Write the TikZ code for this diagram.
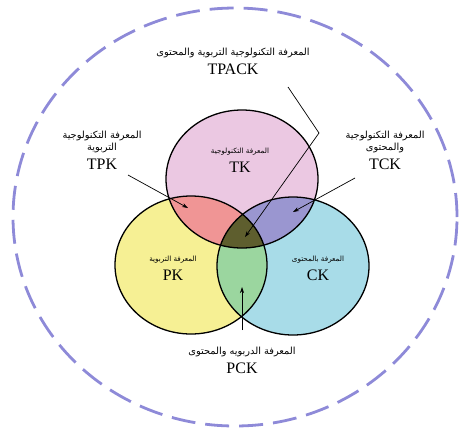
\documentclass[tikz,border=0pt]{standalone}
\usepackage{fontspec}
\setmainfont{Liberation Serif}
\newfontfamily\arabicfont[Script=Arabic]{DejaVu Sans}
\TeXXeTstate=1
\usepackage{xcolor}
\usepackage{tikz}
\usetikzlibrary{shapes.geometric, arrows.meta, positioning, backgrounds}
\definecolor{tkcolor}{RGB}{235, 200, 226}
\definecolor{pkcolor}{RGB}{246, 240, 148}
\definecolor{ckcolor}{RGB}{168, 220, 232}
\definecolor{tpkcolor}{RGB}{240, 149, 149}
\definecolor{tckcolor}{RGB}{154, 150, 208}
\definecolor{pckcolor}{RGB}{155, 214, 159}
\definecolor{tpackcolor}{RGB}{94, 94, 46}
\definecolor{outercolor}{RGB}{142, 138, 216}

\begin{document}
\begin{tikzpicture}[
    x=1pt, y=-1pt,
    venn/.style={ellipse, draw=black, line width=1.3pt, inner sep=0pt, minimum width=152pt, minimum height=138pt},
    arlabel/.style={font=\arabicfont\fontsize{9.8}{11.5}\selectfont, inner sep=0.5pt, align=center},
    arsmall/.style={font=\arabicfont\fontsize{7.2}{8.5}\selectfont, inner sep=0.5pt},
    abbr/.style={font=\fontsize{16}{18}\selectfont, inner sep=0.5pt},
    pointer/.style={-{Stealth[length=6pt, width=4pt]}, line width=0.7pt},
]
\useasboundingbox (0,0) rectangle (462,429);

% ============ OUTER CONTEXT ============
\draw[outercolor, line width=2.8pt, dash pattern=on 24pt off 10pt] (235,217) ellipse (222pt and 209pt);

% ============ CIRCLES ============
\node[venn] (tk) at (242,179) {};
\node[venn] (pk) at (191,265) {};
\node[venn] (ck) at (293,266) {};

% ============ FILLS (behind outlines) ============
\begin{scope}[on background layer]
    \fill[tkcolor] (tk.center) ellipse (76pt and 69pt);
    \fill[pkcolor] (pk.center) ellipse (76pt and 69pt);
    \fill[ckcolor] (ck.center) ellipse (76pt and 69pt);
    % TPK
    \begin{scope}
        \clip (tk.center) ellipse (76pt and 69pt);
        \fill[tpkcolor] (pk.center) ellipse (76pt and 69pt);
    \end{scope}
    % TCK
    \begin{scope}
        \clip (tk.center) ellipse (76pt and 69pt);
        \fill[tckcolor] (ck.center) ellipse (76pt and 69pt);
    \end{scope}
    % PCK
    \begin{scope}
        \clip (pk.center) ellipse (76pt and 69pt);
        \fill[pckcolor] (ck.center) ellipse (76pt and 69pt);
    \end{scope}
    % TPACK
    \begin{scope}
        \clip (tk.center) ellipse (76pt and 69pt);
        \clip (pk.center) ellipse (76pt and 69pt);
        \fill[tpackcolor] (ck.center) ellipse (76pt and 69pt);
    \end{scope}
\end{scope}

% ============ CIRCLE LABELS ============
\node[arsmall] (tkar) at (240,152) {\beginR المعرفة التكنولوجية\endR};
\node[abbr, below=5pt of tkar] (tklabel) {TK};
\node[arsmall] (pkar) at (173,260) {\beginR المعرفة التربوية\endR};
\node[abbr, below=5pt of pkar] (pklabel) {PK};
\node[arsmall] (ckar) at (318,260) {\beginR المعرفة بالمحتوى\endR};
\node[abbr, below=5pt of ckar] (cklabel) {CK};

% ============ OUTSIDE LABELS ============
\node[arlabel] (tpackar) at (233,53) {\beginR المعرفة التكنولوجية التربوية والمحتوى\endR};
\node[abbr, below=5pt of tpackar] (tpack) {TPACK};

\node[arlabel] (tpkar) at (102,142) {\beginR المعرفة التكنولوجية\endR\\ \beginR التربوية\endR};
\node[abbr, below=5pt of tpkar] (tpk) {TPK};

\node[arlabel] (tckar) at (385,142) {\beginR المعرفة التكنولوجية\endR\\ \beginR والمحتوى\endR};
\node[abbr, below=5pt of tckar] (tck) {TCK};

\node[arlabel] (pckar) at (242,352) {\beginR المعرفة الدربويه والمحتوى\endR};
\node[abbr, below=5pt of pckar] (pck) {PCK};

% ============ ARROWS ============
\coordinate (tpackfrom) at (288,87);
\coordinate (tpackbend) at (319,133);
\coordinate (tpackto) at (245,237);
\coordinate (tpkfrom) at (128,175);
\coordinate (tpkto) at (188,208);
\coordinate (tckfrom) at (355,178);
\coordinate (tckto) at (293,212);
\coordinate (pckfrom) at (242,330);
\coordinate (pckto) at (242,287);

\draw[pointer] (tpackfrom) -- (tpackbend) -- (tpackto);
\draw[pointer] (tpkfrom) -- (tpkto);
\draw[pointer] (tckfrom) -- (tckto);
\draw[pointer] (pckfrom) -- (pckto);

\end{tikzpicture}
\end{document}
